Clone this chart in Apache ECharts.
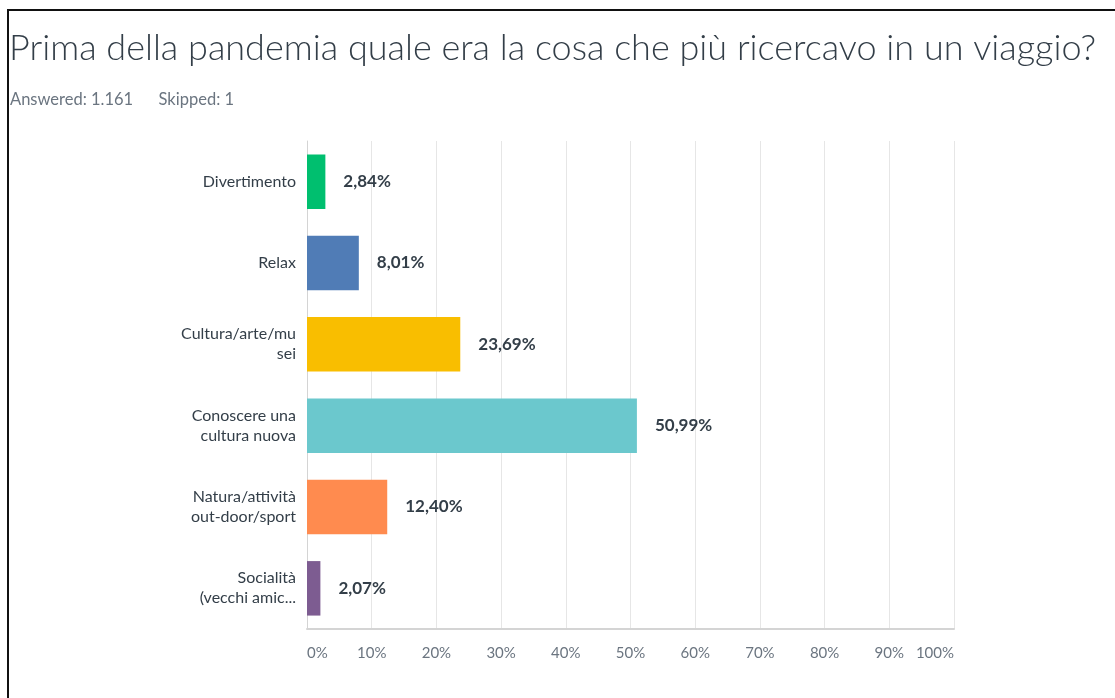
<!DOCTYPE html>
<html>
<head>
<meta charset="utf-8">
<script src="https://cdn.jsdelivr.net/npm/echarts@6/dist/echarts.min.js"></script>
<style>
html, body { margin: 0; padding: 0; background: #fff; }
#content { width: 1115px; height: 698px; }
</style>
</head>
<body>
<div id="content"></div>
<script>
var categories = ['Divertimento', 'Relax', 'Cultura/arte/mu\nsei', 'Conoscere una\ncultura nuova', 'Natura/attività\nout-door/sport', 'Socialità\n(vecchi amic...'];
var values = [2.84, 8.01, 23.69, 50.99, 12.40, 2.07];
var colors = ['#00BF6F', '#507CB6', '#F9BE00', '#6BC8CD', '#FF8B4F', '#7D5C91'];
var tickLabels = ['0%', '10%', '20%', '30%', '40%', '50%', '60%', '70%', '80%', '90%', '100%'];

var fontFam = 'Lato, "Open Sans", sans-serif';

var myChart = echarts.init(document.getElementById('content'));
myChart.setOption({
    animation: false,
    title: [
        {
            text: 'Prima della pandemia quale era la cosa che più ricercavo in un viaggio?',
            left: 4,
            top: 25,
            padding: [5, 5],
            textStyle: { fontFamily: fontFam, fontWeight: 300, fontSize: 36, color: '#333E48' }
        },
        {
            text: 'Answered: 1.161      Skipped: 1',
            left: 5,
            top: 86,
            textStyle: { fontFamily: fontFam, fontWeight: 'normal', fontSize: 16.5, color: '#6B7580' }
        }
    ],
    graphic: [
        {
            type: 'polyline',
            shape: { points: [[8, 698], [8, 10], [1115, 10]] },
            style: { stroke: '#111', lineWidth: 2, fill: null }
        }
    ],
    grid: { left: 307, right: 161, top: 141, bottom: 69 },
    xAxis: {
        type: 'value',
        min: 0,
        max: 100,
        interval: 10,
        axisLine: { show: true, lineStyle: { color: '#D4D4D4', width: 2 } },
        axisTick: { show: false },
        splitLine: { lineStyle: { color: '#E6E6E6', width: 1 } },
        axisLabel: {
            margin: 17,
            align: 'center',
            alignMinLabel: 'left',
            alignMaxLabel: 'right',
            showMinLabel: true,
            showMaxLabel: true,
            hideOverlap: false,
            color: '#6B7580',
            fontFamily: fontFam,
            fontSize: 15,
            formatter: function (v) { return tickLabels[Math.round(v / 10)]; }
        }
    },
    yAxis: {
        type: 'category',
        inverse: true,
        data: categories,
        axisLine: { show: true, lineStyle: { color: '#D4D4D4', width: 1 } },
        axisTick: { show: false },
        axisLabel: {
            margin: 11,
            color: '#333E48',
            fontFamily: fontFam,
            fontSize: 16,
            lineHeight: 20
        }
    },
    series: [
        {
            type: 'bar',
            data: values.map(function (v, i) {
                return { value: v, itemStyle: { color: colors[i] } };
            }),
            barCategoryGap: '33%',
            label: {
                show: true,
                position: 'right',
                distance: 18,
                fontFamily: fontFam,
                fontWeight: 'bold',
                fontSize: 17,
                color: '#333E48',
                formatter: function (p) { return p.value.toFixed(2).replace('.', ',') + '%'; }
            }
        }
    ]
});
</script>
</body>
</html>
